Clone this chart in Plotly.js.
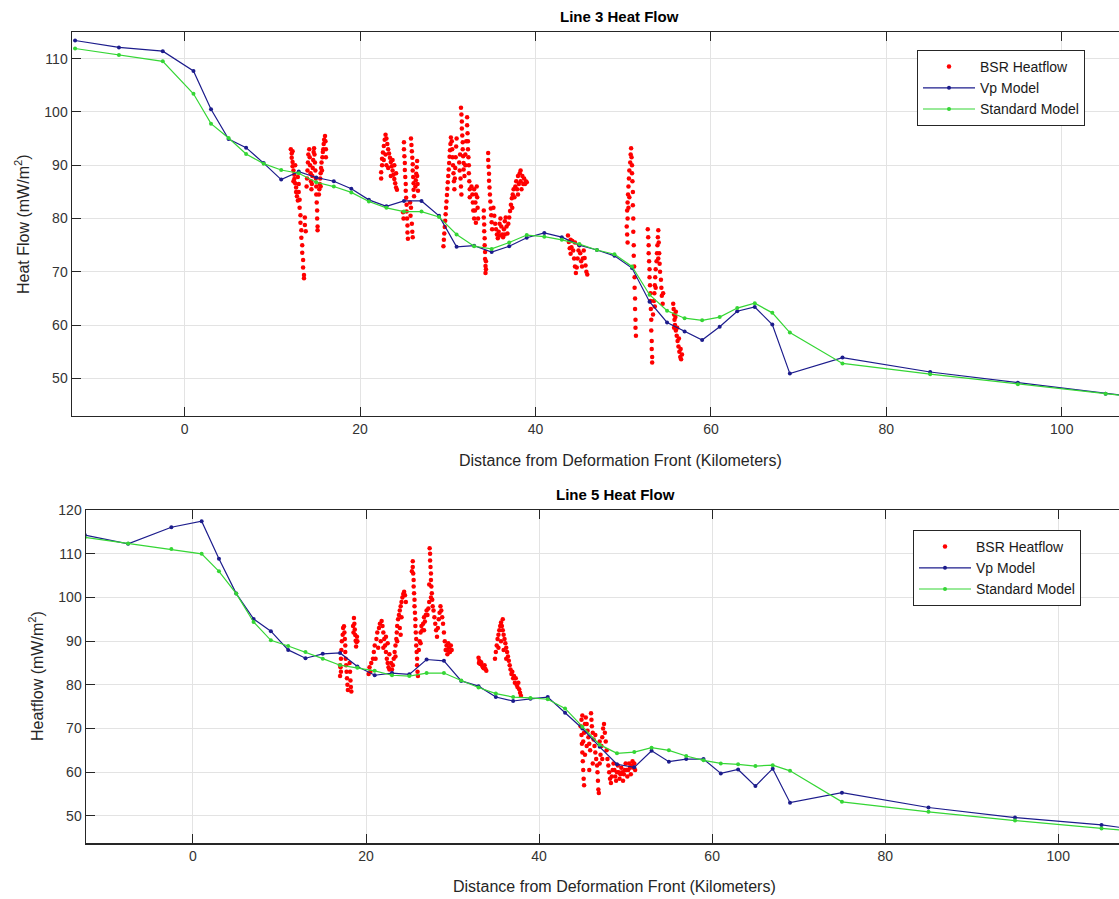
<!DOCTYPE html>
<html><head><meta charset="utf-8">
<script src="https://cdn.plot.ly/plotly-3.0.1.min.js"></script>
<style>html,body{margin:0;padding:0;background:#fff;overflow:hidden}#chart{width:1119px;height:899px}</style>
</head><body><div id="chart"></div>
<script>
// Model profile positions (km from deformation front)
const modelX = [-12.5,-7.5,-2.5,1,3,5,7,9,11,13,15,17,19,21,23,25,27,29,31,33,35,37,39,41,43,45,47,49,51,53,55,57,59,61,63,65,67,69,75,85,95,105,115];

// Line 3
const line3Vp  = [113.4,112.1,111.4,107.7,100.5,94.9,93.3,90.4,87.3,88.8,87.7,87.0,85.6,83.5,82.3,83.3,83.3,80.5,74.7,74.9,73.7,74.8,76.4,77.3,76.5,75.0,74.1,73.0,70.7,64.4,60.5,58.8,57.2,59.7,62.6,63.4,60.1,50.9,53.9,51.2,49.2,47.1,45.2];
const line3Std = [111.9,110.7,109.5,103.4,97.8,95.1,92.1,90.3,89.1,88.5,86.8,86.0,84.9,83.2,82.0,81.3,81.3,80.3,77.0,74.8,74.3,75.5,76.9,76.6,76.0,75.2,74.1,73.3,71.0,65.7,62.7,61.3,60.9,61.5,63.2,64.1,62.3,58.6,52.8,50.8,48.9,47.1,45.3];

// Line 5
const line5Vp  = [114.3,112.3,116.1,117.5,108.9,100.9,95.1,92.3,88.0,86.1,87.1,87.3,84.2,82.2,82.7,82.4,85.8,85.5,80.9,79.7,77.2,76.3,76.8,77.2,73.6,70.0,65.8,61.8,61.1,64.9,62.4,63.0,63.0,59.7,60.6,56.8,60.8,53.0,55.3,51.9,49.6,47.9,45.3];
const line5Std = [113.8,112.4,111.1,110.0,106.0,100.9,94.4,90.2,88.9,87.5,86.0,84.5,83.9,83.2,82.2,82.0,82.7,82.7,81.0,79.4,78.0,77.2,77.0,76.7,74.6,70.4,66.3,64.3,64.6,65.6,65.0,63.7,62.7,62.0,61.8,61.4,61.6,60.3,53.2,50.9,48.9,47.1,45.4];

// BSR-derived heat flow, Line 3 : [km, mW/m2]
const bsr3Points = [
[12.1,93.0],[12.2,92.2],[12.2,91.4],[12.3,90.6],[12.3,89.8],[12.4,89.0],[12.5,88.2],[12.5,87.4],[12.6,86.6],[12.7,85.8],[12.7,85.0],[12.8,84.2],[12.9,83.4],[12.9,87.8],[13.0,86.5],[13.0,85.0],[13.1,83.5],[13.1,82.0],[13.2,80.6],[13.2,79.2],[13.3,77.8],[13.3,76.4],[13.4,75.0],[13.4,73.6],[13.5,72.2],[13.5,70.8],[13.6,69.4],[13.6,68.8],[13.7,80.2],[13.7,78.8],[13.8,77.6],[12.3,92.6],[12.6,90.0],[12.4,87.0],
[13.9,86.0],[13.95,87.5],[14.0,89.0],[14.05,90.5],[14.1,92.0],[14.2,93.0],[14.25,91.5],[14.3,90.0],[14.35,88.5],[14.4,87.0],[14.45,85.5],[14.5,86.5],[14.55,88.0],[14.6,89.5],[14.65,91.0],[14.7,92.5],[14.75,93.2],[14.8,92.0],[14.85,90.5],[14.9,89.0],[14.95,87.5],[15.0,86.0],[15.0,84.5],[15.05,83.0],[15.1,81.5],[15.1,80.0],[15.15,78.5],[15.15,77.8],
[15.3,84.5],[15.35,85.5],[15.4,86.5],[15.45,87.5],[15.5,88.5],[15.55,89.5],[15.6,90.5],[15.7,91.5],[15.75,92.5],[15.8,93.0],[15.85,94.0],[15.9,94.8],[16.0,95.5],[16.05,94.5],[16.1,93.0],[16.1,91.5],[15.65,89.0],[15.5,86.0],
[22.4,87.5],[22.4,88.7],[22.5,90.0],[22.5,91.2],[22.6,92.4],[22.7,93.6],[22.8,94.8],[22.9,95.7],[23.0,95.0],[23.1,94.0],[23.2,93.0],[23.3,92.2],[23.4,91.4],[23.5,90.6],[23.6,89.8],[23.7,89.0],[23.8,88.2],[23.9,87.4],[24.0,86.6],[24.1,85.8],[24.2,85.4],[22.7,91.0],[22.9,92.0],[23.0,90.0],[23.2,89.5],[23.5,88.0],[23.7,91.0],[23.9,90.0],[24.1,88.5],
[25.0,94.3],[25.0,93.0],[25.05,91.7],[25.1,90.4],[25.1,89.1],[25.15,87.8],[25.2,86.5],[25.2,85.2],[25.25,83.9],[25.3,82.6],[25.3,81.3],[25.35,80.0],[25.4,78.7],[25.4,77.4],[25.45,76.2],[24.95,80.0],[24.9,81.2],
[25.8,95.0],[25.85,93.8],[25.9,92.6],[25.95,91.4],[26.0,90.2],[26.0,89.0],[26.05,87.8],[26.1,86.6],[26.1,85.4],[26.15,84.2],[26.3,86.0],[26.35,87.2],[26.4,88.4],[26.45,89.6],[26.5,90.8],[26.5,88.0],[26.55,86.5],[26.6,85.2],[25.8,82.0],[25.75,80.5],[25.9,79.0],[25.95,77.5],[26.0,76.5],[25.7,83.0],
[29.5,74.8],[29.55,76.0],[29.6,77.2],[29.65,78.4],[29.7,79.6],[29.75,80.8],[29.8,82.0],[29.85,83.2],[29.9,84.4],[29.95,85.6],[30.0,86.8],[30.05,88.0],[30.1,89.2],[30.15,90.4],[30.2,91.6],[30.25,92.8],[30.3,94.0],[30.35,95.2],[30.45,94.5],[30.5,93.0],[30.55,91.5],[30.6,90.0],[30.65,88.5],[30.7,87.0],[30.75,85.5],[30.8,87.5],[30.85,89.5],[30.9,91.5],[30.95,93.5],[31.0,95.0],
[31.5,100.8],[31.55,99.5],[31.6,98.2],[31.6,96.9],[31.65,95.6],[31.7,94.3],[31.7,93.0],[31.75,91.7],[31.8,90.4],[31.8,89.2],[31.4,92.0],[31.3,90.5],[31.35,89.0],[31.45,87.5],[31.5,86.0],[31.55,84.5],[32.2,99.0],[32.2,97.5],[32.25,96.0],[32.3,94.5],[32.3,93.0],[32.35,91.5],[32.4,90.0],[32.4,88.5],[32.45,87.0],[32.5,85.5],[32.5,84.0],[32.0,92.0],[32.0,90.0],[31.9,88.0],[32.1,94.5],
[32.7,86.0],[32.8,84.5],[32.85,83.0],[32.9,81.5],[33.0,80.0],[33.1,81.5],[33.15,83.0],[33.2,84.5],[33.3,86.0],[33.35,84.0],[33.4,82.0],[33.45,80.0],[33.0,85.5],[33.2,79.2],
[34.1,81.5],[34.1,80.2],[34.15,78.9],[34.15,77.6],[34.2,76.3],[34.2,75.0],[34.25,73.7],[34.25,72.4],[34.3,71.1],[34.3,69.8],[34.35,70.5],[34.35,72.0],
[34.6,92.3],[34.6,91.0],[34.65,89.7],[34.7,88.4],[34.7,87.1],[34.75,85.8],[34.8,84.5],[34.85,83.2],[34.9,81.9],[34.95,80.6],[35.0,79.3],[35.05,78.0],
[35.2,82.0],[35.3,80.5],[35.4,79.0],[35.5,78.0],[35.6,77.0],[35.7,76.3],[35.8,77.5],[35.9,79.0],[36.0,80.0],[36.1,78.5],[36.2,77.0],[36.3,76.5],[36.4,78.0],[36.5,79.5],[36.6,80.2],[36.7,78.5],[36.8,77.2],[35.9,76.8],[36.5,77.0],
[36.9,79.0],[37.0,80.2],[37.1,81.4],[37.2,82.6],[37.3,83.8],[37.35,82.0],[37.4,84.5],[37.5,85.5],[37.6,84.0],[37.7,86.0],[37.8,87.0],[37.9,85.5],[38.0,88.0],[38.1,86.5],[38.2,88.5],[38.3,87.0],[38.4,85.5],[38.5,88.0],[38.6,86.5],[38.7,87.5],[38.8,86.5],[38.9,87.0],[39.0,86.8],[38.0,84.5],[38.3,89.0],
[43.7,76.8],[43.8,75.6],[43.9,74.4],[44.0,73.4],[44.1,74.6],[44.2,75.8],[44.3,74.0],[44.4,72.5],[44.5,71.0],[44.6,69.8],[44.7,70.8],[44.8,72.5],[44.9,74.0],[45.0,75.0],[45.1,73.5],[45.2,72.0],[45.3,71.0],[45.4,72.5],[45.5,74.0],[45.6,72.6],[45.7,71.2],[45.8,70.0],[45.9,69.5],[44.0,76.0],[44.5,75.5],
[50.5,83.0],[50.55,84.5],[50.6,86.0],[50.65,87.5],[50.7,89.0],[50.8,90.5],[50.85,92.0],[50.9,93.2],[50.95,91.5],[51.0,90.0],[51.0,88.5],[51.05,87.0],[50.45,81.5],[50.5,80.0],[50.4,78.5],[50.45,77.0],[50.5,75.5],[51.1,85.0],[51.1,82.5],[51.15,80.0],[51.15,77.5],[51.2,75.0],[51.2,73.0],[51.25,71.0],[51.3,69.0],[51.3,67.0],[51.35,65.0],[51.35,63.0],[51.4,61.0],[51.4,59.5],[51.45,58.0],[50.6,82.0],[50.7,84.0],
[52.8,78.0],[52.85,76.5],[52.9,75.0],[52.9,73.5],[52.95,72.0],[53.0,70.5],[53.0,69.0],[53.05,67.5],[53.1,66.0],[53.1,64.5],[53.15,63.0],[53.2,61.0],[53.2,59.0],[53.25,57.0],[53.25,55.5],[53.3,54.0],[53.3,53.0],[53.5,64.5],[53.55,66.0],[53.6,67.5],[53.65,69.0],[53.7,70.5],[53.8,72.0],[53.85,73.5],[53.9,75.0],[53.95,76.5],[54.0,77.8],[54.05,75.5],[54.1,73.5],[54.15,71.5],[54.2,70.0],[54.3,68.5],[54.35,67.0],[54.4,65.5],[54.5,64.0],[54.55,66.0],[54.0,72.5],[53.7,67.0],[53.6,63.5],[53.4,62.0],
[55.7,64.0],[55.75,63.0],[55.8,62.0],[55.85,61.0],[55.9,60.0],[55.95,61.5],[56.0,59.0],[56.1,58.0],[56.15,59.5],[56.2,57.0],[56.3,56.0],[56.35,57.5],[56.4,55.0],[56.5,54.0],[56.55,55.5],[56.6,53.6],[56.7,54.5],[55.8,59.5],[56.0,62.5]
];

// BSR-derived heat flow, Line 5 : [km, mW/m2]
const bsr5Points = [
[17.0,82.0],[17.05,84.0],[17.1,86.0],[17.15,88.0],[17.2,90.0],[17.3,91.5],[17.35,93.0],[17.45,93.4],[17.5,92.0],[17.55,90.5],[17.6,89.0],[17.6,87.5],[17.65,86.0],[17.7,84.5],[17.75,83.0],[17.8,81.5],[17.85,80.0],[17.9,78.8],[17.0,84.5],[17.1,83.0],
[18.1,85.0],[18.15,83.0],[18.2,81.0],[18.25,79.5],[18.3,78.5],
[18.6,95.3],[18.65,94.0],[18.7,92.7],[18.75,91.4],[18.8,90.1],[18.85,88.8],[18.9,89.8],[18.95,91.0],[19.0,90.0],[18.5,93.5],[18.55,92.0],
[20.3,82.5],[20.4,84.0],[20.5,83.0],[20.6,85.0],[20.8,86.0],[20.9,87.5],[21.0,89.0],[21.2,90.5],[21.3,92.0],[21.5,93.0],[21.6,94.0],[21.8,94.6],[21.9,93.5],[22.0,92.0],[22.1,90.5],[22.2,89.0],[22.3,87.5],[22.4,86.0],[22.5,85.0],[22.6,84.0],[22.7,83.5],[21.4,88.5],[21.7,90.0],[22.0,88.5],[21.1,86.0],[22.3,91.0],[22.5,89.5],[22.7,87.0],[22.9,85.0],[23.0,83.5],
[23.1,84.5],[23.2,86.0],[23.3,87.5],[23.4,89.0],[23.5,90.5],[23.55,92.0],[23.6,93.5],[23.7,95.0],[23.8,96.0],[23.9,97.0],[24.0,98.0],[24.1,99.0],[24.2,100.0],[24.3,100.8],[24.4,101.3],[24.5,100.5],[24.6,99.0],[23.6,90.0],[23.9,93.0],[24.1,95.5],[23.4,86.5],[24.0,91.5],
[25.4,108.3],[25.4,107.0],[25.45,105.5],[25.5,104.0],[25.5,102.5],[25.55,101.0],[25.6,99.5],[25.6,98.0],[25.65,96.5],[25.7,95.0],[25.7,93.5],[25.75,92.0],[25.8,90.5],[25.8,89.0],[25.85,87.5],[25.9,86.0],[25.9,84.5],[25.95,83.0],[26.0,82.0],[25.3,106.0],
[26.1,88.0],[26.2,90.0],[26.3,92.0],[26.4,93.5],[26.5,92.5],[26.6,94.0],[26.7,95.5],[26.8,94.5],[26.9,96.0],[27.0,97.0],[27.1,96.0],[27.2,97.5],[27.3,99.0],[27.35,111.3],[27.4,110.0],[27.4,108.5],[27.45,107.0],[27.5,105.5],[27.5,104.0],[27.55,102.5],[27.6,101.0],[27.65,99.5],[27.7,98.0],[27.8,97.0],[27.9,95.5],[28.0,94.0],[28.1,92.5],[28.2,91.0],[28.3,93.0],[28.4,95.0],[28.5,96.5],[28.6,98.0],[28.7,97.0],[28.8,95.5],[28.9,94.0],[29.0,92.0],[29.1,90.0],[29.2,88.0],[29.3,89.0],[29.35,88.0],[29.4,87.0],[27.3,103.0],[27.5,100.0],[26.3,89.5],[26.7,92.5],
[29.5,89.5],[29.6,88.5],[29.7,87.5],[29.8,89.0],[29.9,88.0],
[33.0,86.2],[33.1,85.5],[33.2,84.8],[33.3,85.2],[33.4,84.5],[33.5,84.0],[33.6,83.8],[33.7,84.5],[33.8,83.6],[33.9,83.2],[33.05,85.0],
[34.9,86.0],[35.0,87.5],[35.1,89.0],[35.2,90.5],[35.3,91.5],[35.4,92.5],[35.5,93.5],[35.6,94.3],[35.7,93.5],[35.8,92.5],[35.9,91.5],[36.0,90.5],[36.1,89.5],[36.2,88.5],[36.3,87.5],[36.4,86.5],[36.5,85.5],[36.6,84.5],[36.7,83.5],[36.8,82.5],[36.9,83.0],[37.0,81.5],[37.1,82.0],[37.2,80.5],[37.3,81.5],[37.4,80.0],[37.5,79.5],[37.6,80.5],[37.7,79.0],[37.8,78.2],[37.9,77.5],[35.3,88.5],[35.6,90.0],[35.9,88.0],[36.2,86.0],[35.8,95.0],
[44.8,70.5],[44.9,68.5],[44.95,66.5],[45.0,64.5],[45.05,62.5],[45.1,60.5],[45.15,58.5],[45.2,57.0],[45.1,67.0],[45.2,69.0],[45.3,71.0],[45.4,72.5],[45.5,71.0],[45.6,69.5],[45.7,68.0],[45.8,66.5],[45.9,65.0],[46.0,73.5],[46.05,72.0],[46.1,70.5],[46.2,69.0],[46.3,67.5],[46.4,66.0],[46.5,64.5],[46.6,63.0],[46.7,61.5],[46.75,60.0],[46.8,58.0],[46.85,56.0],[46.9,55.2],[47.0,62.0],[47.1,64.0],[47.2,66.0],[47.3,68.0],[47.4,70.0],[47.5,71.0],[47.6,69.0],[47.7,67.0],[47.8,65.0],[47.9,63.0],[48.0,61.5],[48.1,60.0],[48.2,58.5],[48.3,57.5],[48.4,59.0],[48.5,60.5],[48.6,62.0],[48.7,60.5],[48.8,59.0],[48.9,58.0],[49.0,60.0],[49.1,61.5],[49.2,60.0],[49.3,58.5],[49.4,59.5],[49.5,61.0],[49.6,60.0],[49.7,58.0],[49.8,59.5],[49.9,60.5],[50.0,62.0],[50.1,60.5],[50.2,59.0],[50.3,60.5],[50.4,62.0],[50.5,61.0],[50.6,59.5],[50.7,61.5],[50.8,62.5],[50.9,61.0],[51.0,62.0],[51.1,60.5],[45.5,66.0],[45.3,64.0],[46.2,62.0],[45.8,60.5],[46.5,68.5],[47.0,67.0],[47.3,63.0],[44.9,72.0],[45.0,73.0]
];

const xTickVals = [0,20,40,60,80,100];
const seriesNames = ['BSR Heatflow','Vp Model','Standard Model'];

const W = 1119, H = 899;
const FONT = 'Liberation Sans, Arial, Helvetica, sans-serif';
const RED = '#ff0000', BLUE = '#1c1c8c', GREEN = '#35d635';
const AXC = '#262626';

function traces(points, vp, std, xa, ya, leg, show) {
  return [
    {x: points.map(p => p[0]), y: points.map(p => p[1]), type: 'scatter', mode: 'markers',
     name: seriesNames[0], xaxis: xa, yaxis: ya, legend: leg, showlegend: show,
     marker: {color: RED, size: 4.5}},
    {x: modelX, y: vp, type: 'scatter', mode: 'lines+markers', name: seriesNames[1],
     xaxis: xa, yaxis: ya, legend: leg, showlegend: show,
     line: {color: BLUE, width: 1.2}, marker: {color: BLUE, size: 4}},
    {x: modelX, y: std, type: 'scatter', mode: 'lines+markers', name: seriesNames[2],
     xaxis: xa, yaxis: ya, legend: leg, showlegend: show,
     line: {color: GREEN, width: 1.2}, marker: {color: GREEN, size: 4}}
  ];
}

const data = [].concat(
  traces(bsr3Points, line3Vp, line3Std, 'x', 'y', 'legend', true),
  traces(bsr5Points, line5Vp, line5Std, 'x2', 'y2', 'legend2', true)
);

function xAxis(domain, range, anchor) {
  return {domain: domain, range: range, anchor: anchor, tickvals: xTickVals,
    showgrid: true, gridcolor: '#e3e3e3', gridwidth: 1, zeroline: false,
    showline: true, linecolor: AXC, linewidth: 1.2, mirror: 'ticks',
    ticks: 'inside', ticklen: 9, tickcolor: AXC, tickwidth: 1,
    tickfont: {family: FONT, size: 14, color: '#333'}, fixedrange: true};
}
function yAxis(domain, range, anchor, dtick) {
  return {domain: domain, range: range, anchor: anchor, dtick: dtick, tick0: 0,
    showgrid: true, gridcolor: '#e3e3e3', gridwidth: 1, zeroline: false,
    showline: true, linecolor: AXC, linewidth: 1.2,
    ticks: 'inside', ticklen: 9, tickcolor: AXC, tickwidth: 1,
    tickfont: {family: FONT, size: 14, color: '#333'}, fixedrange: true};
}
const px = v => v / W, py = v => 1 - v / H;

const layout = {
  width: W, height: H, margin: {l: 0, r: 0, t: 0, b: 0},
  paper_bgcolor: '#fff', plot_bgcolor: '#fff',
  font: {family: FONT, color: AXC},
  xaxis: xAxis([px(71.7), 1], [-12.885, 106.53], 'y'),
  yaxis: yAxis([py(415.7), py(32)], [43, 115], 'x', 10),
  xaxis2: xAxis([px(85.7), 1], [-12.40, 107.02], 'y2'),
  yaxis2: yAxis([py(843.3), py(510)], [43.7, 120.05], 'x2', 10),
  legend: {x: px(917), y: py(50), xanchor: 'left', yanchor: 'top', bgcolor: '#fff',
    bordercolor: AXC, borderwidth: 1, font: {family: FONT, size: 14, color: '#1a1a1a'},
    itemwidth: 52, tracegroupgap: 0},
  legend2: {x: px(913), y: py(530), xanchor: 'left', yanchor: 'top', bgcolor: '#fff',
    bordercolor: AXC, borderwidth: 1, font: {family: FONT, size: 14, color: '#1a1a1a'},
    itemwidth: 52, tracegroupgap: 0},
  annotations: [
    {text: '<b>Line 3 Heat Flow</b>', xref: 'paper', yref: 'paper', x: px(619), y: py(16),
     showarrow: false, xanchor: 'center', yanchor: 'middle', font: {family: FONT, size: 15, color: '#000'}},
    {text: '<b>Line 5 Heat Flow</b>', xref: 'paper', yref: 'paper', x: px(615), y: py(494),
     showarrow: false, xanchor: 'center', yanchor: 'middle', font: {family: FONT, size: 15, color: '#000'}},
    {text: 'Distance from Deformation Front (Kilometers)', xref: 'paper', yref: 'paper', x: px(620), y: py(460),
     showarrow: false, xanchor: 'center', yanchor: 'middle', font: {family: FONT, size: 16, color: AXC}},
    {text: 'Distance from Deformation Front (Kilometers)', xref: 'paper', yref: 'paper', x: px(614), y: py(886),
     showarrow: false, xanchor: 'center', yanchor: 'middle', font: {family: FONT, size: 16, color: AXC}},
    {text: 'Heat Flow (mW/m<sup>2</sup>)', xref: 'paper', yref: 'paper', x: px(22), y: py(224), textangle: -90,
     showarrow: false, xanchor: 'center', yanchor: 'middle', font: {family: FONT, size: 16, color: AXC}},
    {text: 'Heatflow (mW/m<sup>2</sup>)', xref: 'paper', yref: 'paper', x: px(36), y: py(676), textangle: -90,
     showarrow: false, xanchor: 'center', yanchor: 'middle', font: {family: FONT, size: 16, color: AXC}}
  ]
};

Plotly.newPlot('chart', data, layout, {staticPlot: true, displayModeBar: false});
</script>
</body></html>
